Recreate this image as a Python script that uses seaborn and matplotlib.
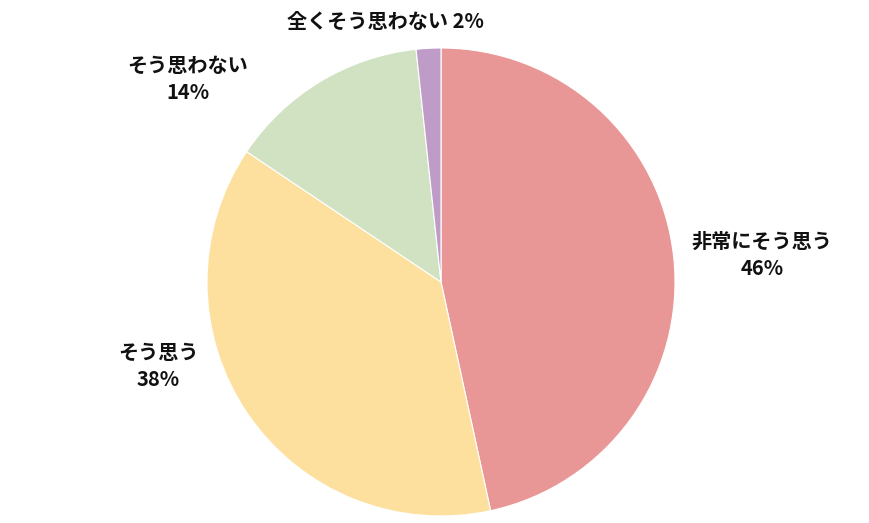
import seaborn as sns
import matplotlib.pyplot as plt

categories = ["非常にそう思う", "そう思う", "そう思わない", "全くそう思わない"]
# wedge shares; the printed labels are the rounded ones
values = [46.6, 37.8, 13.9, 1.7]
pct_labels = ["46%", "38%", "14%", "2%"]
colors = ["#E99796", "#FDE09E", "#D0E2C2", "#BF9BC8"]

# label anchor points (in pie radius units) and separator before the %
label_pos = [(1.372, 0.115), (-1.209, -0.359), (-1.081, 0.868), (-0.239, 1.115)]
label_sep = ["\n", "\n", "\n", " "]

sns.set_theme(style="white")
plt.rcParams["font.family"] = ["Noto Sans CJK JP", "DejaVu Sans"]

fig = plt.figure(figsize=(8.7, 5.23), dpi=100)
cx, cy, r = 441, 523 - 282, 234
ax = fig.add_axes([(cx - r) / 870, (cy - r) / 523, 2 * r / 870, 2 * r / 523])

ax.pie(values, colors=colors, startangle=90, counterclock=False, radius=1,
       wedgeprops=dict(edgecolor="white", linewidth=0.8))
ax.set_xlim(-1, 1)
ax.set_ylim(-1, 1)
ax.set_aspect("equal")
ax.axis("off")

for cat, pct, (x, y), sep in zip(categories, pct_labels, label_pos, label_sep):
    ax.text(x, y, f"{cat}{sep}{pct}", ha="center", va="center",
            fontsize=14.5, fontweight="bold", color="#111111", linespacing=1.4,
            clip_on=False)

fig.savefig("out.png", dpi=100)
